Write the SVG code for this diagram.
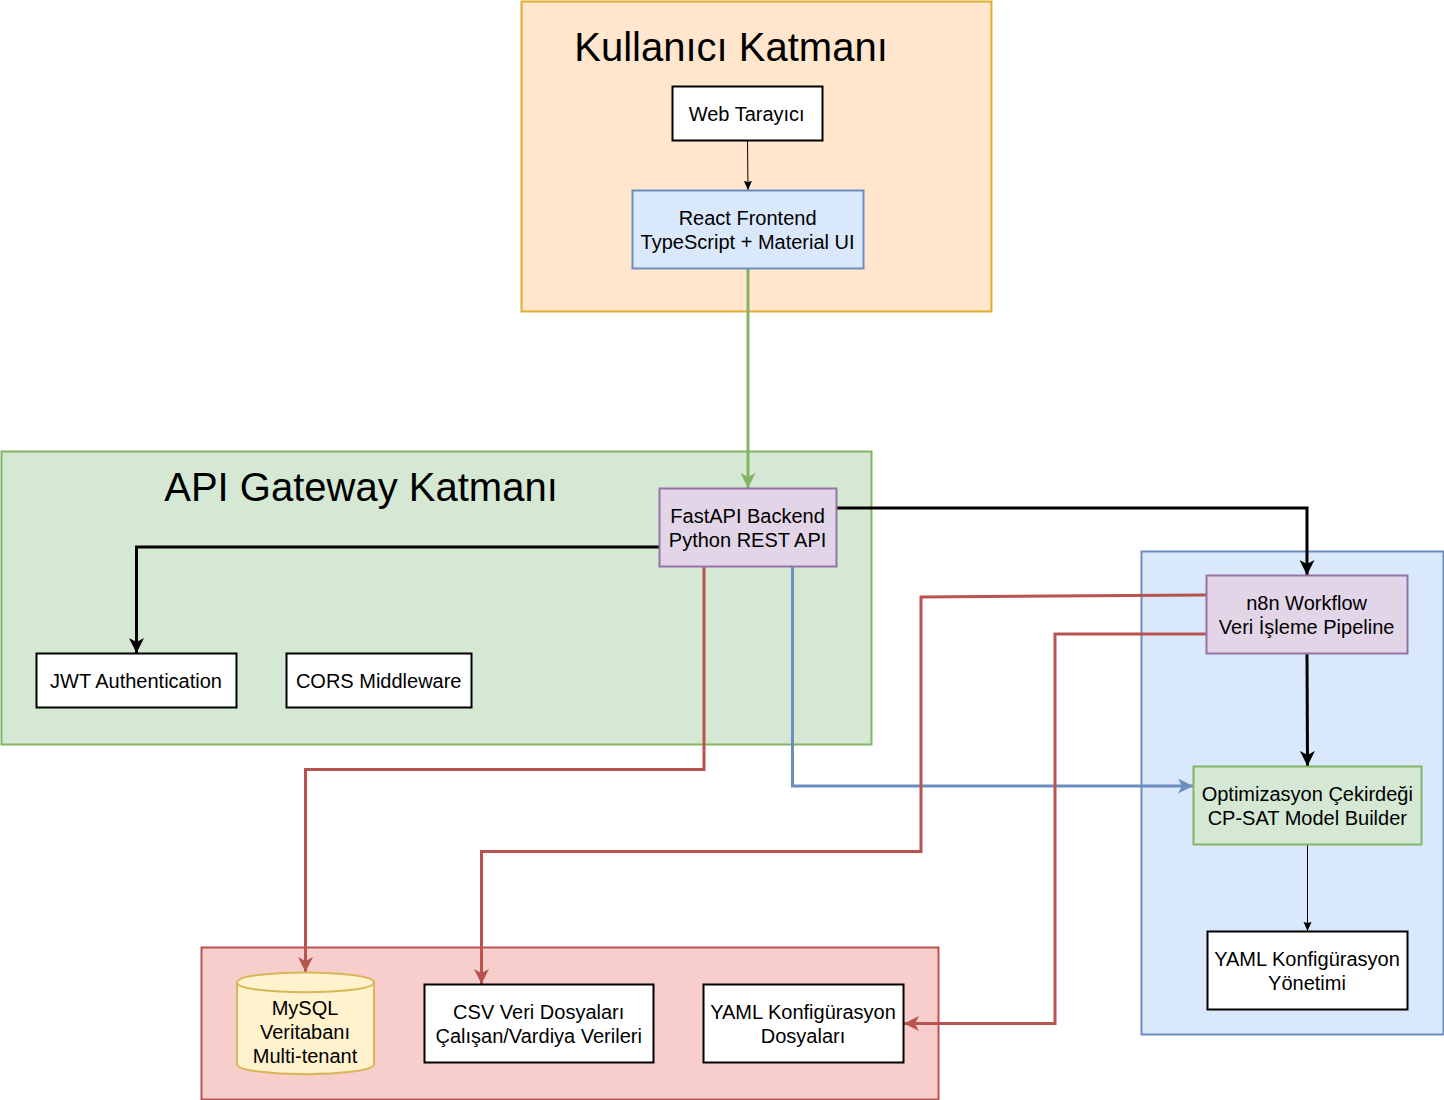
<svg xmlns="http://www.w3.org/2000/svg" width="1444" height="1100" viewBox="0 0 1444 1100">
<defs>
<style>
text{font-family:"Liberation Sans",Arial,sans-serif;font-size:20px;text-anchor:middle;fill:#000}
.t{font-size:40px}
.b{stroke-width:2;stroke-linejoin:miter}
.c{fill:none;stroke-width:3;stroke-linejoin:miter}
.th{fill:none;stroke:#000;stroke-width:1}
</style>
<marker id="ak" markerUnits="userSpaceOnUse" markerWidth="15" markerHeight="15" refX="15" refY="7.500" orient="auto" viewBox="0 0 15 15"><path d="M0 0L15 7.500L0 15L4 7.500Z" fill="#000"/></marker>
<marker id="ag" markerUnits="userSpaceOnUse" markerWidth="15" markerHeight="15" refX="15" refY="7.500" orient="auto" viewBox="0 0 15 15"><path d="M0 0L15 7.500L0 15L4 7.500Z" fill="#82b366"/></marker>
<marker id="ar" markerUnits="userSpaceOnUse" markerWidth="15" markerHeight="15" refX="15" refY="7.500" orient="auto" viewBox="0 0 15 15"><path d="M0 0L15 7.500L0 15L4 7.500Z" fill="#b85450"/></marker>
<marker id="ab" markerUnits="userSpaceOnUse" markerWidth="15" markerHeight="15" refX="15" refY="7.500" orient="auto" viewBox="0 0 15 15"><path d="M0 0L15 7.500L0 15L4 7.500Z" fill="#6c8ebf"/></marker>
<marker id="as" markerUnits="userSpaceOnUse" markerWidth="9" markerHeight="9" refX="9" refY="4.500" orient="auto" viewBox="0 0 9 9"><path d="M0 .5L9 4.500L0 8.500L1 4.500Z" fill="#000"/></marker>
</defs>
<g id="layer-user"><rect class="b" x="521.500" y="1.500" width="470" height="310" fill="#ffe6cc" stroke="#d79b00" stroke-opacity=".8"/><text class="t" x="731" y="61">Kullanıcı Katmanı</text></g>
<g id="layer-api"><rect class="b" x="1.500" y="451.500" width="870" height="293" fill="#d5e8d4" stroke="#82b366"/><text class="t" x="361" y="501">API Gateway Katmanı</text></g>
<g id="layer-proc"><rect class="b" x="1141.500" y="551.500" width="302" height="483" fill="#dae8fc" stroke="#6c8ebf"/></g>
<g id="layer-data"><rect class="b" x="201.500" y="947.500" width="737" height="152" fill="#f8cecc" stroke="#b85450"/></g>
<g id="connectors">
<path class="th" d="M747.500 141L748 190" marker-end="url(#as)"/>
<path class="c" stroke="#82b366" d="M748 268V488" marker-end="url(#ag)"/>
<path class="c" stroke="#000" d="M659 547H136.500V653" marker-end="url(#ak)"/>
<path class="c" stroke="#000" d="M837 508H1307V575" marker-end="url(#ak)"/>
<path class="c" stroke="#000" d="M1307 654L1307.500 766" marker-end="url(#ak)"/>
<path class="th" d="M1307.500 845V931" marker-end="url(#as)"/>
<path class="c" stroke="#b85450" d="M704 567V769.500H305.500V972" marker-end="url(#ar)"/>
<path class="c" stroke="#6c8ebf" d="M792.500 567V786H1193" marker-end="url(#ab)"/>
<path class="c" stroke="#b85450" d="M1206 595L921 597V851.500H481.500V984" marker-end="url(#ar)"/>
<path class="c" stroke="#b85450" d="M1206 634H1055V1023.500H904" marker-end="url(#ar)"/>
</g>
<g id="n-web"><rect class="b" x="672.500" y="86.500" width="150" height="54" fill="#fff" stroke="#000"/><text x="746.700" y="121">Web Tarayıcı</text></g>
<g id="n-react"><rect class="b" x="632.500" y="190.500" width="231" height="78" fill="#dae8fc" stroke="#6c8ebf"/><text x="747.600" y="225">React Frontend</text><text x="747.600" y="249">TypeScript + Material UI</text></g>
<g id="n-fastapi"><rect class="b" x="659.500" y="488.500" width="177" height="78" fill="#e1d5e7" stroke="#9673a6"/><text x="747.600" y="523">FastAPI Backend</text><text x="747.600" y="547">Python REST API</text></g>
<g id="n-jwt"><rect class="b" x="36.500" y="653.500" width="200" height="54" fill="#fff" stroke="#000"/><text x="136" y="688">JWT Authentication</text></g>
<g id="n-cors"><rect class="b" x="286.500" y="653.500" width="185" height="54" fill="#fff" stroke="#000"/><text x="378.700" y="688">CORS Middleware</text></g>
<g id="n-n8n"><rect class="b" x="1206.500" y="575.500" width="201" height="78" fill="#e1d5e7" stroke="#9673a6"/><text x="1306.600" y="610">n8n Workflow</text><text x="1306.600" y="634">Veri İşleme Pipeline</text></g>
<g id="n-opt"><rect class="b" x="1193.500" y="766.500" width="228" height="78" fill="#d5e8d4" stroke="#82b366"/><text x="1307.300" y="801">Optimizasyon Çekirdeği</text><text x="1307.300" y="825">CP-SAT Model Builder</text></g>
<g id="n-yaml1"><rect class="b" x="1207.500" y="931.500" width="200" height="78" fill="#fff" stroke="#000"/><text x="1307" y="966">YAML Konfigürasyon</text><text x="1307" y="990">Yönetimi</text></g>
<g id="n-mysql"><path class="b" d="M237 982.500C237 969 374 969 374 982.500V1064C374 1077.500 237 1077.500 237 1064Z" fill="#fff2cc" stroke="#d6b656"/><path class="b" d="M237 982.500C237 995.500 374 995.500 374 982.500" fill="none" stroke="#d6b656"/><text x="305" y="1015">MySQL</text><text x="305" y="1039">Veritabanı</text><text x="305" y="1063">Multi-tenant</text></g>
<g id="n-csv"><rect class="b" x="424.500" y="984.500" width="229" height="78" fill="#fff" stroke="#000"/><text x="538.700" y="1019">CSV Veri Dosyaları</text><text x="538.700" y="1043">Çalışan/Vardiya Verileri</text></g>
<g id="n-yaml2"><rect class="b" x="703.500" y="984.500" width="200" height="78" fill="#fff" stroke="#000"/><text x="803" y="1019">YAML Konfigürasyon</text><text x="803" y="1043">Dosyaları</text></g>
</svg>
